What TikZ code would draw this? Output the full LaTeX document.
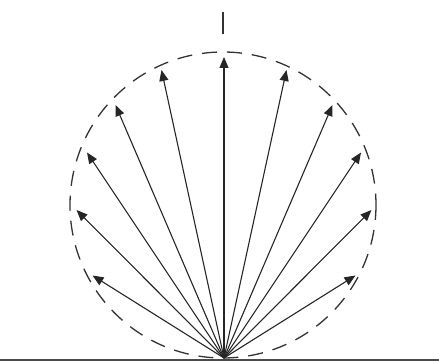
\documentclass[tikz,border=0pt]{standalone}
\usetikzlibrary{arrows.meta}
\begin{document}
\begin{tikzpicture}[x=1pt,y=-1pt,
  ray/.style={line width=1.1pt,draw=black!85,-{Triangle[length=11pt,width=9pt]}},
  dashcirc/.style={line width=1.3pt,draw=black!80,dash pattern=on 15pt off 10pt},
  ground/.style={line width=1.6pt,draw=black!70}]
\useasboundingbox (0,0) rectangle (439,363);
\coordinate (O) at (224,358);
\coordinate (C) at (223,205);
% ground line
\coordinate (GL) at (0,360);
\coordinate (GR) at (439,360);
\draw[ground] (GL) -- (GR);
% dashed circle
\draw[dashcirc] (C) circle[radius=153];
% normal line (top dash)
\coordinate (N1) at (223,12);
\coordinate (N2) at (223,34);
\draw[line width=1.3pt,draw=black!80] (N1) -- (N2);
% rays
\coordinate (T0) at (224,57);
\foreach \dx/\dy [count=\i] in {62.5/288,108.5/253,137/205.5,147.5/148,131.5/82.5}{
  \coordinate (R\i) at (224+\dx,358-\dy);
  \coordinate (L\i) at (224-\dx,358-\dy);
}
\draw[ray] (O) -- (T0);
\foreach \i in {1,...,5}{
  \draw[ray] (O) -- (R\i);
  \draw[ray] (O) -- (L\i);
}
\end{tikzpicture}
\end{document}
